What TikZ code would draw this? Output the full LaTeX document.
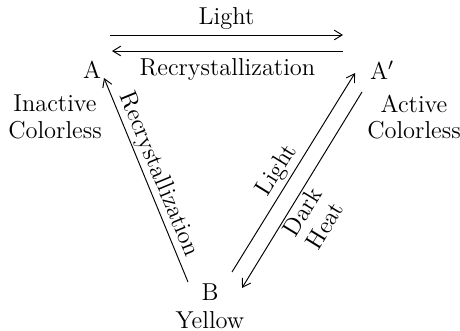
\documentclass[tikz,border=0pt]{standalone}
\usepackage{tikz}
\usetikzlibrary{arrows.meta,positioning,calc}

\begin{document}
\begin{tikzpicture}[x=0.47pt, y=0.47pt, >={Straight Barb[length=1.3mm,width=1.6mm]},
                    line width=0.45pt, font=\fontsize{11.5}{12.5}\selectfont]
  \useasboundingbox (0,0) rectangle (460,330);
  \tikzset{state/.style={inner sep=1pt},
           desc/.style={align=center, inner sep=1pt},
           lbl/.style={inner sep=1.5pt, align=center}}
  % the three forms
  \node[state] (A)  at (92,260)  {A};
  \node[state] (A') at (382,260) {A$'$};
  \node[state] (B)  at (210,38)  {B};
  \node[desc] (inact) at (55,213)  {Inactive\\Colorless};
  \node[desc] (act)   at (414,213) {Active\\Colorless};
  \node[desc] (yel)   at (210,10)  {Yellow};

  % free ends of the connectors
  \coordinate (t1) at (110,295); \coordinate (t2) at (343,295);
  \coordinate (u1) at (343,279); \coordinate (u2) at (112,279);
  \coordinate (l1) at (188,48);  \coordinate (l2) at (104,252);
  \coordinate (r1) at (232,58);  \coordinate (r2) at (355,257);
  \coordinate (d1) at (362,238); \coordinate (d2) at (242,42);

  \draw[->] (t1) -- node[lbl, above=1pt] {Light} (t2);
  \draw[->] (u1) -- node[lbl, below=2pt] {Recrystallization} (u2);
  \draw[->] (l1) -- node[lbl, sloped, above, inner sep=1pt] {Recrystallization} (l2);
  \draw[->] (r1) -- node[lbl, sloped, above, pos=0.47] {Light} (r2);
  \draw[->] (d1) -- node[lbl, sloped, below, pos=0.58, inner sep=1pt] {Dark\\Heat} (d2);
\end{tikzpicture}
\end{document}
